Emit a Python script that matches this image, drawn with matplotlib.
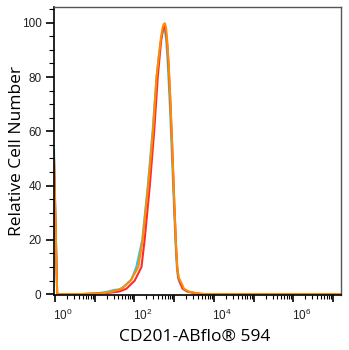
import numpy as np
import matplotlib
matplotlib.use("Agg")
import matplotlib.pyplot as plt
from matplotlib.ticker import LogLocator, MultipleLocator, FixedLocator, NullFormatter
from matplotlib.transforms import ScaledTranslation

# ==========================================================
# DADOS (x em expoente log10 da intensidade)
# ==========================================================

cyan_log = [-0.02, 0.06, 0.6, 0.9, 1.15, 1.35, 1.5, 1.6, 1.72, 1.93, 2.05, 2.20,
            2.34, 2.46, 2.56, 2.62, 2.67, 2.71, 2.74, 2.77, 2.80, 2.83, 2.86,
            2.90, 2.95, 3.00, 3.04, 3.07, 3.10, 3.15, 3.22, 3.33, 3.55, 3.75, 7.3]
cyan_val = [53, 0, 0, 0.2, 0.5, 1.0, 1.6, 1.7, 2.5, 5.5, 10, 20,
            40, 60, 80, 88, 93.5, 96.5, 97.5, 97, 94, 88, 80,
            68, 50, 32, 18, 10, 6, 4, 2, 1, 0.3, 0, 0]

red_log = [-0.02, 0.06, 0.6, 1.0, 1.3, 1.63, 1.80, 2.01, 2.18, 2.26, 2.39, 2.50,
           2.59, 2.64, 2.68, 2.72, 2.75, 2.78, 2.81, 2.84, 2.87, 2.91, 2.96,
           3.01, 3.05, 3.08, 3.11, 3.16, 3.22, 3.33, 3.55, 3.75, 7.3]
red_val = [50, 0, 0, 0.2, 0.4, 1.0, 2.0, 5, 10, 20, 40, 60,
           80, 88, 94, 97.5, 98.5, 98, 95, 90, 82, 70, 52,
           32, 18, 10, 6, 4, 2, 1, 0.3, 0, 0]

orange_log = [-0.02, 0.06, 0.6, 0.9, 1.18, 1.45, 1.68, 1.91, 2.10, 2.21, 2.35,
              2.47, 2.56, 2.62, 2.67, 2.71, 2.74, 2.77, 2.80, 2.83, 2.86, 2.90,
              2.95, 3.00, 3.05, 3.08, 3.12, 3.19, 3.25, 3.36, 3.6, 3.8, 7.3]
orange_val = [50, 0, 0, 0.2, 0.3, 1.0, 2.0, 5, 10, 20, 40,
              60, 80, 88, 94.5, 98, 99.5, 99.8, 98, 93, 86, 74,
              56, 36, 18, 10, 6, 4, 2, 1, 0.3, 0, 0]

x_labels = {0: r"$10^{0}$", 2: r"$10^{2}$", 4: r"$10^{4}$", 6: r"$10^{6}$"}

# ==========================================================
# FIGURA
# ==========================================================

plt.rcParams["font.family"] = ["Open Sans", "DejaVu Sans"]
plt.rcParams["mathtext.default"] = "regular"

fig = plt.figure(figsize=(3.49, 3.5), dpi=100)
ax = fig.add_axes([54 / 349, 1 - 295 / 350, (341 - 54) / 349, (295 - 7) / 350])

ax.plot(10 ** np.array(cyan_log), cyan_val, color="#2ec8e8", lw=1.5)
ax.plot(10 ** np.array(red_log), red_val, color="#ff2a2a", lw=1.5)
ax.plot(10 ** np.array(orange_log), orange_val, color="#ff8c00", lw=1.5)

ax.set_xscale("log")
ax.set_xlim(10 ** -0.02, 10 ** 7.2)
ax.set_ylim(-0.3, 105.8)

# eixo x
ax.xaxis.set_major_locator(FixedLocator([10.0 ** k for k in range(0, 8)]))
ax.xaxis.set_minor_locator(LogLocator(base=10, subs=np.arange(2, 10), numticks=20))
ax.xaxis.set_minor_formatter(NullFormatter())
ax.set_xticklabels([x_labels.get(k, "") for k in range(0, 8)])
ax.tick_params(axis="x", which="major", length=5, width=1.2, labelsize=8.5,
               pad=4, labelcolor="#222222")
ax.tick_params(axis="x", which="minor", length=3, width=0.8)
offset = ScaledTranslation(8 / 100, 0, fig.dpi_scale_trans)
for lab in ax.get_xticklabels():
    lab.set_transform(lab.get_transform() + offset)
    lab.set_family("Liberation Sans")

# eixo y
ax.yaxis.set_major_locator(MultipleLocator(20))
ax.yaxis.set_minor_locator(MultipleLocator(5))
ax.tick_params(axis="y", which="major", length=6, width=1.2, labelsize=8.5,
               pad=3, labelcolor="#222222")
ax.tick_params(axis="y", which="minor", length=3.5, width=0.8)
for lab in ax.get_yticklabels():
    lab.set_family("Liberation Sans")

for s in ["left", "bottom"]:
    ax.spines[s].set_linewidth(1.2)
    ax.spines[s].set_color("black")
for s in ["top", "right"]:
    ax.spines[s].set_linewidth(1.0)
    ax.spines[s].set_color("#555555")

ax.set_ylabel("Relative Cell Number", fontsize=12.5)
ax.yaxis.set_label_coords(-37 / 287, 0.5)
ax.set_xlabel("CD201-ABflo® 594", fontsize=12.5)
ax.xaxis.set_label_coords((195 - 54) / 287, -(337 - 295) / 288)
ax.xaxis.label.set_va("center")
ax.yaxis.label.set_va("center")

fig.savefig("out.png", dpi=100)
